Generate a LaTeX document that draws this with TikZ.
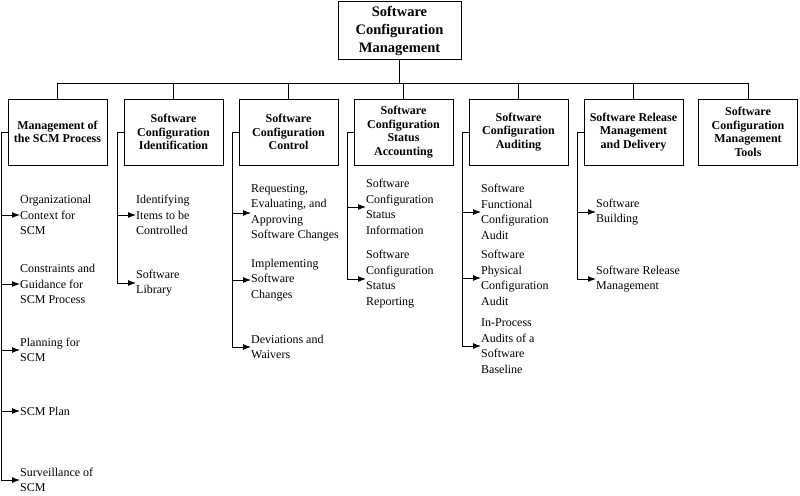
\documentclass[tikz,border=0pt]{standalone}
\usepackage{fontspec}
\setmainfont{Liberation Serif}
\usetikzlibrary{arrows.meta}
\begin{document}
\begin{tikzpicture}[x=1pt,y=-1pt,
 box/.style={draw,line width=1pt,minimum width=99pt,minimum height=66pt,align=center,font=\fontsize{12}{13.5}\selectfont\bfseries,inner sep=1pt},
 item/.style={anchor=west,align=left,font=\fontsize{12}{15.5}\selectfont,inner sep=0pt},
 ln/.style={line width=1pt},
 arr/.style={ln,-{Latex[length=8pt,width=6pt]}}]
\useasboundingbox (0,0) rectangle (800,495);
\node[box,font=\fontsize{14.5}{18}\selectfont\bfseries,minimum width=123pt,minimum height=58pt] (top) at (399.5,31) {Software\\Configuration\\Management};
\node[box] (b1) at (57.5,132) {Management of\\the SCM Process};
\node[box] (b2) at (173.5,132) {Software\\Configuration\\Identification};
\node[box] (b3) at (288.5,132) {Software\\Configuration\\Control};
\node[box] (b4) at (403.5,132) {Software\\Configuration\\Status\\Accounting};
\node[box] (b5) at (518.5,132) {Software\\Configuration\\Auditing};
\node[box] (b6) at (633.5,132) {Software Release\\Management\\and Delivery};
\node[box] (b7) at (748,132) {Software\\Configuration\\Management\\Tools};
\coordinate (bus) at (399.5,83);
\draw[ln] (top.south) -- (bus);
\draw[ln] (b1.north) |- (b7.north |- bus) -- (b7.north);
\foreach \b in {b2,b3,b4,b5,b6} \draw[ln] (\b.north) -- (\b.north |- bus);
\newcommand\col[4]{%
 \coordinate (#3s) at (#2,132);
 \draw[ln] (#1.west) -- (#3s);
 \foreach \yy/\tx [count=\i] in {#4} {
   \node[item] (#3\i) at (#2+19,\yy) {\tx};
   \draw[arr] (#3s) |- (#3\i.west);
 }}
\col{b1}{1}{p}{215/{Organizational\\Context for\\SCM}, 284/{Constraints and\\Guidance for\\SCM Process}, 350/{Planning for\\SCM}, 411/{SCM Plan}, 480/{Surveillance of\\SCM}}
\col{b2}{117}{q}{215/{Identifying\\Items to be\\Controlled}, 283/{Software\\Library}}
\col{b3}{232}{r}{213/{Requesting,\\Evaluating, and\\Approving\\Software Changes}, 280/{Implementing\\Software\\Changes}, 347/{Deviations and\\Waivers}}
\col{b4}{347}{s}{207/{Software\\Configuration\\Status\\Information}, 279/{Software\\Configuration\\Status\\Reporting}}
\col{b5}{462}{t}{212/{Software\\Functional\\Configuration\\Audit}, 278/{Software\\Physical\\Configuration\\Audit}, 346/{In-Process\\Audits of a\\Software\\Baseline}}
\col{b6}{577}{u}{212/{Software\\Building}, 279/{Software Release\\Management}}
\end{tikzpicture}
\end{document}
